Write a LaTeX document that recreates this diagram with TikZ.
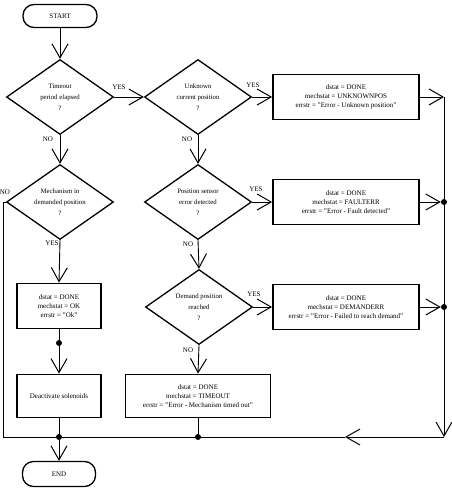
\documentclass[tikz,border=0pt]{standalone}
\usepackage{fontspec}
\setmainfont{Liberation Serif}
\usetikzlibrary{shapes.geometric,arrows.meta}
\tikzset{
  decision/.style={diamond, draw, line width=1.3pt, aspect=1.4, minimum width=107pt, minimum height=75pt, inner sep=0pt, align=center, font=\fontsize{6.8}{11}\selectfont},
  action/.style={rectangle, draw, line width=1.8pt, minimum width=146pt, minimum height=45pt, inner sep=0pt, align=center, font=\fontsize{7}{9}\selectfont},
  terminal/.style={rectangle, rounded corners=11pt, draw, line width=1.3pt, minimum width=74pt, minimum height=23pt, font=\fontsize{7}{8}\selectfont},
  flow/.style={-{Straight Barb[length=14pt,width=16pt,line width=1pt]}, line width=0.9pt},
  line/.style={line width=0.9pt},
  junction/.style={circle, fill, inner sep=0pt, minimum size=6pt},
  lbl/.style={inner sep=0pt, font=\fontsize{7}{8}\selectfont}
}
\begin{document}
\begin{tikzpicture}[x=1pt,y=-1pt]
    \useasboundingbox (0,0) rectangle (451,490);

    % Start and end
    \node[terminal] (start) at (60,16) {START};
    \node[terminal, minimum width=73pt, minimum height=25pt] (end) at (59,474) {END};

    % Decisions
    \node[decision] (d1) at (60,97) {Timeout\\period elapsed\\?};
    \node[decision] (d2) at (198,97) {Unknown\\current position\\?};
    \node[decision] (d3) at (60,202) {Mechanism in\\demanded position\\?};
    \node[decision] (d4) at (198,202) {Position sensor\\error detected\\?};
    \node[decision] (d5) at (199,307) {Demand position\\reached\\?};

    % Actions
    \node[action] (b1) at (346,97) {dstat = DONE\\mechstat = UNKNOWNPOS\\errstr = "Error - Unknown position"};
    \node[action] (b2) at (346,202) {dstat = DONE\\mechstat = FAULTERR\\errstr = "Error - Fault detected"};
    \node[action] (b3) at (346,307) {dstat = DONE\\mechstat = DEMANDERR\\errstr = "Error - Failed to reach demand"};
    \node[action, minimum width=84pt] (ok) at (59,306) {dstat = DONE\\mechstat = OK\\errstr = "Ok"};
    \node[action, minimum width=84pt, minimum height=43pt] (deact) at (59,396) {Deactivate solenoids};
    \node[action, minimum width=145pt, minimum height=43pt] (b4) at (198,396) {dstat = DONE\\mechstat = TIMEOUT\\errstr = "Error - Mechanism timed out"};

    % Collector lines
    \coordinate (rTop) at (444,97);
    \coordinate (botR) at (444,437);
    \coordinate (botL) at (3,437);
    \coordinate (arrL) at (345,437);
    \node[junction] (jR2) at (444,202) {};
    \node[junction] (jR3) at (444,307) {};
    \node[junction] (jOk) at (59,343) {};
    \node[junction] (jE) at (59,437) {};
    \node[junction] (jD) at (198,437) {};

    % Main flow
    \draw[flow] (start) -- (d1.north);
    \draw[flow] (d1.east) -- (d2.west);
    \draw[flow] (d1.south) -- (d3.north);
    \draw[flow] (d2.east) -- (b1.west);
    \draw[flow] (d2.south) -- (d4.north);
    \draw[flow] (d4.east) -- (b2.west);
    \draw[flow] (d4.south) -- (d5.north);
    \draw[flow] (d5.east) -- (b3.west);
    \draw[flow] (d5.south) -- (b4.north);
    \draw[flow] (d3.south) -- (ok.north);
    \draw[line] (ok.south) -- (jOk);
    \draw[flow] (jOk) -- (deact.north);

    % Right column back to the end
    \draw[flow] (b1.east) -- (rTop);
    \draw[flow] (b2.east) -- (jR2);
    \draw[flow] (b3.east) -- (jR3);
    \draw[flow] (rTop) -- (botR);
    \draw[flow] (botR) -- (arrL);
    \draw[line] (arrL) -- (jE);
    \draw[line] (d3.west) -| (botL) -- (jE);
    \draw[line] (deact.south) -- (jE);
    \draw[line] (b4.south) -- (jD);
    \draw[flow] (jE) -- (end.north);

    % Branch labels
    \node[lbl] at (119,87) {YES};
    \node[lbl] at (48,139) {NO};
    \node[lbl] at (253,85) {YES};
    \node[lbl] at (187,139) {NO};
    \node[lbl] at (5,192) {NO};
    \node[lbl] at (52,243) {YES};
    \node[lbl] at (256,189) {YES};
    \node[lbl] at (188,244) {NO};
    \node[lbl] at (254,294) {YES};
    \node[lbl] at (188,350) {NO};
\end{tikzpicture}
\end{document}
